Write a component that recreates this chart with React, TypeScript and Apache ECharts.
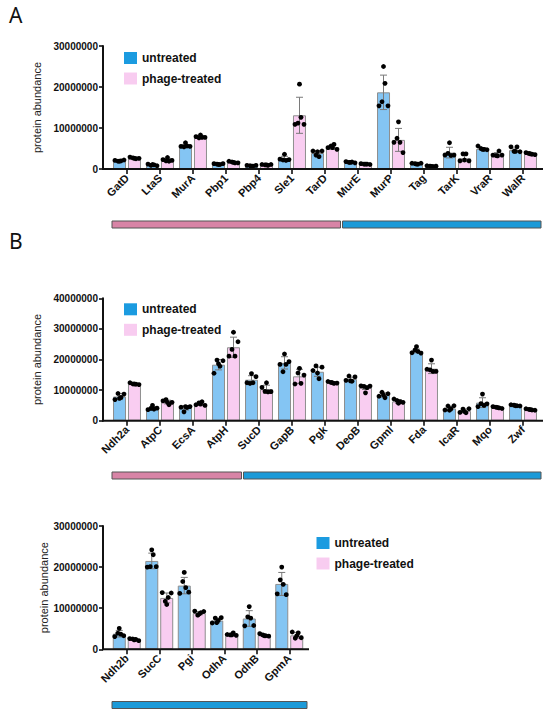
import React, { useEffect, useRef } from "react";
import * as echarts from "echarts";

// ---------- Panel A ----------
const catsA = ["GatD", "LtaS", "MurA", "Pbp1", "Pbp4", "Sle1", "TarD", "MurE", "MurP", "Tag", "TarK", "VraR", "WalR"];
const untreatedMeanA = [2.0e6, 1.0e6, 5.6e6, 1.2e6, 0.8e6, 2.5e6, 3.9e6, 1.6e6, 18.7e6, 1.3e6, 4.0e6, 4.9e6, 4.6e6];
const untreatedSdA = [0.2e6, 0.2e6, 0.4e6, 0.15e6, 0.15e6, 0.6e6, 0.6e6, 0.2e6, 4.2e6, 0.2e6, 1.3e6, 0.3e6, 0.5e6];
const treatedMeanA = [2.6e6, 2.2e6, 7.8e6, 1.6e6, 1.0e6, 13.1e6, 5.3e6, 1.2e6, 7.1e6, 0.7e6, 2.6e6, 3.5e6, 3.7e6];
const treatedSdA = [0.3e6, 0.4e6, 0.4e6, 0.2e6, 0.15e6, 4.4e6, 0.5e6, 0.1e6, 2.8e6, 0.2e6, 0.8e6, 0.5e6, 0.3e6];
const untreatedDotsA = [
  [2.1e6, 1.9e6, 2.0e6, 2.2e6, 1.9e6],
  [1.2e6, 0.9e6, 1.0e6, 0.8e6, 1.1e6],
  [5.5e6, 5.4e6, 5.6e6, 5.5e6, 6.4e6],
  [1.3e6, 1.2e6, 1.1e6, 1.3e6, 1.1e6],
  [0.9e6, 0.8e6, 0.7e6, 0.9e6, 0.7e6],
  [2.4e6, 2.2e6, 2.1e6, 2.3e6, 3.6e6],
  [4.4e6, 3.4e6, 3.0e6, 4.4e6, 4.2e6],
  [1.8e6, 1.6e6, 1.7e6, 1.5e6, 1.6e6],
  [15.4e6, 16.4e6, 20.9e6, 15.4e6, 25.0e6],
  [1.4e6, 1.3e6, 1.2e6, 1.4e6, 1.2e6],
  [3.4e6, 3.8e6, 3.3e6, 3.4e6, 6.4e6],
  [5.6e6, 5.0e6, 4.8e6, 4.7e6, 4.8e6],
  [5.4e6, 4.3e6, 5.4e6, 4.2e6, 4.3e6],
];
const treatedDotsA = [
  [2.9e6, 2.7e6, 2.5e6, 2.6e6, 2.6e6],
  [2.3e6, 2.0e6, 1.9e6, 2.1e6, 2.8e6],
  [7.9e6, 7.6e6, 7.7e6, 7.7e6, 8.3e6],
  [1.9e6, 1.7e6, 1.5e6, 1.5e6, 1.6e6],
  [1.1e6, 1.0e6, 0.9e6, 1.1e6, 1.0e6],
  [10.9e6, 11.2e6, 12.6e6, 10.9e6, 20.7e6],
  [5.2e6, 5.6e6, 6.0e6, 4.8e6, 5.2e6],
  [1.3e6, 1.2e6, 1.2e6, 1.1e6, 1.2e6],
  [6.5e6, 7.5e6, 6.5e6, 4.0e6, 11.5e6],
  [0.8e6, 0.7e6, 0.6e6, 0.7e6, 0.6e6],
  [2.0e6, 3.7e6, 3.7e6, 2.0e6, 2.2e6],
  [3.4e6, 3.3e6, 4.4e6, 3.4e6, 3.2e6],
  [4.0e6, 3.8e6, 3.6e6, 3.5e6, 3.7e6],
];
const groupsA = [7, 6];
const groupColorsA = ["#d884a6", "#1c9ad8"];

// ---------- Panel B (upper) ----------
const catsB = ["Ndh2a", "AtpC", "EcsA", "AtpH", "SucD", "GapB", "Pgk", "DeoB", "Gpml", "Fda", "IcaR", "Mqo", "Zwf"];
const untreatedMeanB = [7.9e6, 4.1e6, 4.2e6, 18.3e6, 13.4e6, 18.9e6, 16.0e6, 13.6e6, 8.4e6, 22.8e6, 4.0e6, 5.9e6, 4.9e6];
const untreatedSdB = [1.0e6, 0.5e6, 0.7e6, 1.7e6, 1.3e6, 2.0e6, 1.5e6, 0.6e6, 0.7e6, 0.6e6, 0.7e6, 1.6e6, 0.3e6];
const treatedMeanB = [12.0e6, 6.1e6, 5.5e6, 24.0e6, 10.3e6, 14.5e6, 12.4e6, 10.8e6, 6.3e6, 17.0e6, 3.2e6, 4.3e6, 3.6e6];
const treatedSdB = [0.3e6, 0.6e6, 0.5e6, 3.3e6, 1.3e6, 2.3e6, 0.3e6, 0.6e6, 0.6e6, 1.6e6, 0.6e6, 0.3e6, 0.2e6];
const untreatedDotsB = [
  [6.9e6, 8.9e6, 7.6e6, 8.7e6, 7.3e6],
  [3.6e6, 4.0e6, 3.8e6, 4.1e6, 5.0e6],
  [4.4e6, 2.9e6, 4.3e6, 4.6e6, 4.6e6],
  [15.5e6, 19.8e6, 17.8e6, 19.6e6, 18.6e6],
  [12.4e6, 12.2e6, 12.4e6, 14.4e6, 15.4e6],
  [18.4e6, 16.0e6, 18.4e6, 19.3e6, 21.8e6],
  [16.4e6, 17.9e6, 13.7e6, 17.5e6, 15.6e6],
  [13.2e6, 14.6e6, 12.9e6, 14.3e6, 13.0e6],
  [8.0e6, 9.3e6, 7.5e6, 8.8e6, 8.4e6],
  [22.2e6, 23.1e6, 22.6e6, 22.1e6, 24.2e6],
  [3.5e6, 4.8e6, 3.9e6, 4.9e6, 3.4e6],
  [4.6e6, 5.6e6, 5.0e6, 5.5e6, 8.7e6],
  [5.2e6, 5.1e6, 4.9e6, 4.8e6, 4.9e6],
];
const treatedDotsB = [
  [12.4e6, 12.0e6, 11.9e6, 11.8e6, 12.0e6],
  [6.5e6, 6.9e6, 5.2e6, 6.0e6, 6.0e6],
  [5.2e6, 5.8e6, 6.2e6, 5.0e6, 5.4e6],
  [21.1e6, 23.3e6, 21.1e6, 25.8e6, 28.9e6],
  [10.9e6, 9.6e6, 9.4e6, 9.5e6, 12.4e6],
  [12.0e6, 15.6e6, 12.2e6, 14.9e6, 17.1e6],
  [12.8e6, 12.5e6, 12.2e6, 12.3e6, 12.4e6],
  [11.4e6, 11.2e6, 10.8e6, 11.3e6, 9.1e6],
  [7.1e6, 6.6e6, 6.2e6, 6.0e6, 5.7e6],
  [16.8e6, 16.6e6, 16.1e6, 16.1e6, 19.8e6],
  [2.7e6, 3.8e6, 2.6e6, 3.9e6, 3.0e6],
  [4.6e6, 4.4e6, 4.2e6, 4.0e6, 4.3e6],
  [3.9e6, 3.7e6, 3.5e6, 3.4e6, 3.6e6],
];
const groupsB = [4, 9];
const groupColorsB = ["#d884a6", "#1c9ad8"];

// ---------- Panel B (lower) ----------
const catsC = ["Ndh2b", "SucC", "Pgi", "OdhA", "OdhB", "GpmA"];
const untreatedMeanC = [3.8e6, 21.5e6, 15.5e6, 7.0e6, 7.5e6, 15.9e6];
const untreatedSdC = [0.8e6, 1.9e6, 2.0e6, 0.6e6, 1.9e6, 2.8e6];
const treatedMeanC = [2.4e6, 12.5e6, 8.8e6, 3.5e6, 3.4e6, 3.4e6];
const treatedSdC = [0.2e6, 1.2e6, 0.4e6, 0.3e6, 0.2e6, 0.7e6];
const untreatedDotsC = [
  [3.1e6, 3.9e6, 3.7e6, 3.3e6, 5.1e6],
  [20.0e6, 20.1e6, 23.0e6, 20.1e6, 24.2e6],
  [13.6e6, 16.5e6, 15.0e6, 13.9e6, 18.7e6],
  [6.4e6, 7.6e6, 7.0e6, 7.7e6, 6.5e6],
  [5.7e6, 7.9e6, 7.6e6, 5.8e6, 10.4e6],
  [13.5e6, 16.9e6, 15.8e6, 13.3e6, 20.0e6],
];
const treatedDotsC = [
  [2.6e6, 2.5e6, 2.4e6, 2.1e6, 2.3e6],
  [13.8e6, 11.7e6, 12.6e6, 13.7e6, 10.9e6],
  [9.3e6, 8.3e6, 8.9e6, 9.2e6, 8.6e6],
  [3.6e6, 3.5e6, 4.0e6, 3.4e6, 3.5e6],
  [3.8e6, 3.5e6, 3.3e6, 3.2e6, 3.3e6],
  [4.2e6, 2.7e6, 4.0e6, 2.8e6, 3.3e6],
];
const groupsC = [6];
const groupColorsC = ["#1c9ad8"];

const yTicksA = [0, 10000000, 20000000, 30000000];
const yTicksB = [0, 10000000, 20000000, 30000000, 40000000];
const yTicksC = [0, 10000000, 20000000, 30000000];

const seriesNames = ["untreated", "phage-treated"];

// ---------- styling / layout ----------
const FONT = "Liberation Sans, Arial, sans-serif";
const INK = "#111";
const BAR_FILL = ["#84c5f3", "#f9cdf1"];
const LEGEND_FILL = ["#1b9be0", "#f8ccf0"];
const BAR_W = 13;
const HALF = 7.5;
const JITTER = [-4.5, -1.5, 1.5, 4.5, 0];

const panels = [
  { left: 110.5, band: 33, top: 46, bottom: 169, axisL: 103, axisR: 543, stripY: 221, legend: [119, 47] },
  { left: 110.5, band: 33, top: 298.3, bottom: 420.7, axisL: 103, axisR: 543, stripY: 472, legend: [119, 298.3] },
  { left: 110.5, band: 32.5, top: 526, bottom: 649.3, axisL: 103, axisR: 309, stripY: 701.5, legend: [311.5, 532] },
];

const datasets = [
  { cats: catsA, um: untreatedMeanA, us: untreatedSdA, ud: untreatedDotsA, tm: treatedMeanA, ts: treatedSdA, td: treatedDotsA, ticks: yTicksA, groups: groupsA, gcol: groupColorsA },
  { cats: catsB, um: untreatedMeanB, us: untreatedSdB, ud: untreatedDotsB, tm: treatedMeanB, ts: treatedSdB, td: treatedDotsB, ticks: yTicksB, groups: groupsB, gcol: groupColorsB },
  { cats: catsC, um: untreatedMeanC, us: untreatedSdC, ud: untreatedDotsC, tm: treatedMeanC, ts: treatedSdC, td: treatedDotsC, ticks: yTicksC, groups: groupsC, gcol: groupColorsC },
];

function errRender(off: number) {
  return (params: any, api: any) => {
    const i = api.value(0);
    const m = api.value(1);
    const sd = api.value(2);
    const top = api.coord([i, m + sd]);
    const bot = api.coord([i, m - sd]);
    const x = top[0] + off;
    const st = { stroke: "#7a7a7a", lineWidth: 1 };
    return {
      type: "group",
      children: [
        { type: "line", shape: { x1: x, y1: top[1], x2: x, y2: bot[1] }, style: st },
        { type: "line", shape: { x1: x - 3.5, y1: top[1], x2: x + 3.5, y2: top[1] }, style: st },
        { type: "line", shape: { x1: x - 3.5, y1: bot[1], x2: x + 3.5, y2: bot[1] }, style: st },
      ],
    };
  };
}

function dotRender(off: number) {
  return (params: any, api: any) => {
    const i = api.value(0);
    const v = api.value(1);
    const k = api.value(2);
    const p = api.coord([i, v]);
    return {
      type: "circle",
      shape: { cx: p[0] + off + JITTER[k % JITTER.length], cy: p[1], r: 2.4 },
      style: { fill: "#000" },
    };
  };
}

function buildOption() {
  const grid: any[] = [];
  const xAxis: any[] = [];
  const yAxis: any[] = [];
  const series: any[] = [];
  const legend: any[] = [];
  const graphic: any[] = [];

  datasets.forEach((d, gi) => {
    const P = panels[gi];
    const n = d.cats.length;
    const ticks = d.ticks;
    const interval = ticks[1] - ticks[0];
    grid.push({ left: P.left, top: P.top, width: P.band * n, height: P.bottom - P.top, containLabel: false });
    xAxis.push({
      type: "category",
      gridIndex: gi,
      data: d.cats,
      axisLine: { show: false },
      axisTick: { show: true, alignWithLabel: true, length: 5, lineStyle: { color: INK, width: 1.6 } },
      axisLabel: { interval: 0, rotate: 45, fontSize: 11, fontWeight: "bold", fontFamily: FONT, color: INK, margin: 7 },
      splitLine: { show: false },
    });
    yAxis.push({
      type: "value",
      gridIndex: gi,
      min: ticks[0],
      max: ticks[ticks.length - 1],
      interval,
      offset: P.left - P.axisL,
      axisLine: { show: true, lineStyle: { color: INK, width: 2 } },
      axisTick: { show: true, length: 4, lineStyle: { color: INK, width: 1.6 } },
      splitLine: { show: false },
      axisLabel: { formatter: (v: number) => String(v), fontSize: 10, fontWeight: "bold", fontFamily: FONT, color: INK, margin: 5 },
      name: "protein abundance",
      nameLocation: "middle",
      nameGap: 48,
      nameTextStyle: { fontSize: 11, fontFamily: FONT, color: "#222" },
    });

    const groupsData = [
      { m: d.um, s: d.us, dots: d.ud, off: -HALF, fill: BAR_FILL[0], name: seriesNames[0] },
      { m: d.tm, s: d.ts, dots: d.td, off: HALF, fill: BAR_FILL[1], name: seriesNames[1] },
    ];
    groupsData.forEach((g) => {
      series.push({
        type: "bar",
        name: g.name,
        xAxisIndex: gi,
        yAxisIndex: gi,
        data: g.m,
        barWidth: BAR_W,
        barGap: "15%",
        itemStyle: { color: g.fill, borderColor: "#8e8e8e", borderWidth: 1 },
        z: 2,
        silent: true,
      });
    });
    groupsData.forEach((g) => {
      series.push({
        type: "custom",
        xAxisIndex: gi,
        yAxisIndex: gi,
        data: g.m.map((v, i) => [i, v, g.s[i]]),
        renderItem: errRender(g.off),
        z: 3,
        silent: true,
      });
    });
    groupsData.forEach((g) => {
      const pts: number[][] = [];
      g.dots.forEach((arr, i) => arr.forEach((v, k) => pts.push([i, v, k])));
      series.push({
        type: "custom",
        xAxisIndex: gi,
        yAxisIndex: gi,
        data: pts,
        renderItem: dotRender(g.off),
        z: 4,
        silent: true,
      });
    });

    legend.push({
      left: P.legend[0],
      top: P.legend[1],
      orient: "vertical",
      itemWidth: 13,
      itemHeight: 12,
      itemGap: 8.5,
      icon: "rect",
      selectedMode: false,
      textStyle: { fontSize: 12, fontWeight: "bold", fontFamily: FONT, color: INK, lineHeight: 12 },
      data: seriesNames.map((nm, i) => ({ name: nm, itemStyle: { color: LEGEND_FILL[i], borderWidth: 0 } })),
    });

    // x axis line (extends past the category band like the original)
    graphic.push({
      type: "line",
      shape: { x1: P.axisL - 1, y1: P.bottom, x2: P.axisR, y2: P.bottom },
      style: { stroke: INK, lineWidth: 2 },
      z: 10,
    });

    // category group strips
    let start = 0;
    d.groups.forEach((cnt, j) => {
      const x0 = j === 0 ? P.left + 1.5 : P.left + start * P.band + 1;
      const endIdx = start + cnt;
      const x1 = j === d.groups.length - 1 ? P.axisR - 2 : P.left + endIdx * P.band - 1;
      graphic.push({
        type: "rect",
        shape: { x: x0, y: P.stripY, width: x1 - x0, height: 7 },
        style: { fill: d.gcol[j], stroke: "#555", lineWidth: 1 },
      });
      start = endIdx;
    });
  });

  graphic.push({ type: "text", left: 9, top: 4, style: { text: "A", fontSize: 21, fontFamily: "Noto Sans, sans-serif", fill: "#111" } });
  graphic.push({ type: "text", left: 9, top: 230, style: { text: "B", fontSize: 21, fontFamily: "Noto Sans, sans-serif", fill: "#111" } });

  return {
    animation: false,
    backgroundColor: "#ffffff",
    grid,
    xAxis,
    yAxis,
    legend,
    series,
    graphic,
  };
}

export default function App() {
  const ref = useRef<HTMLDivElement>(null);
  useEffect(() => {
    if (!ref.current) return;
    const chart = echarts.init(ref.current, undefined, { renderer: "svg" });
    chart.setOption(buildOption() as any);
    return () => chart.dispose();
  }, []);
  return <div ref={ref} style={{ position: "absolute", left: 0, top: 0, width: 550, height: 714 }} />;
}
